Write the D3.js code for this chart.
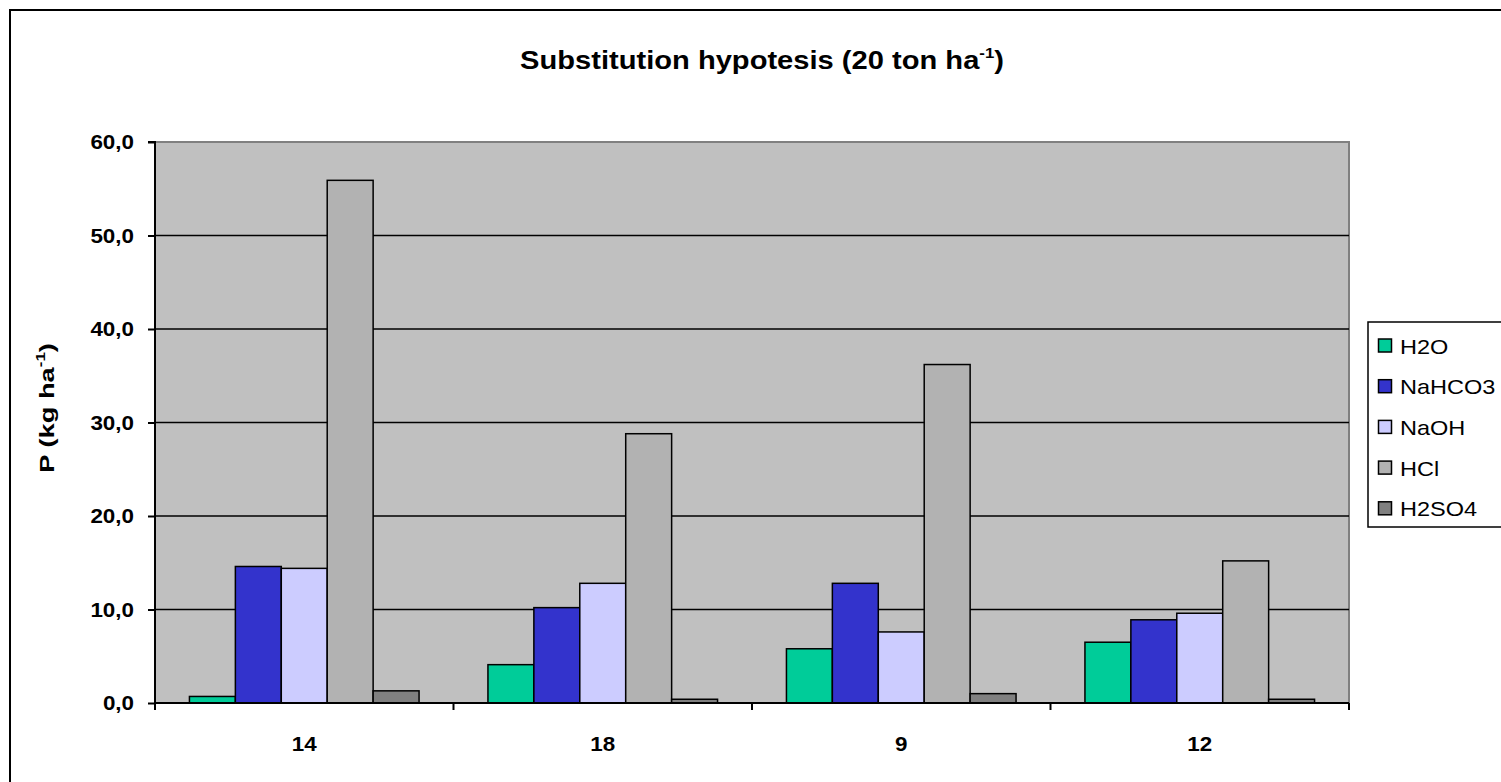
<!DOCTYPE html>
<html>
<head>
<meta charset="utf-8">
<script src="https://cdn.jsdelivr.net/npm/d3@7/dist/d3.min.js"></script>
<style>
  html, body { margin: 0; padding: 0; background: #fff; }
  svg { display: block; font-family: Arial, "Liberation Sans", sans-serif; }
</style>
</head>
<body>
<svg id="chart" width="1501" height="782"></svg>
<script>
// Sampling sites (x categories) and extraction series
const categories = ["14", "18", "9", "12"];
const seriesNames = ["H2O", "NaHCO3", "NaOH", "HCl", "H2SO4"];
const seriesColors = ["#00CC99", "#3333CC", "#CCCCFF", "#B2B2B2", "#808080"];

// P extracted (kg ha-1), one array per extractant, in category order
const h2o    = [0.7, 4.1, 5.8, 6.5];
const nahco3 = [14.6, 10.2, 12.8, 8.9];
const naoh   = [14.4, 12.8, 7.6, 9.6];
const hcl    = [55.9, 28.8, 36.2, 15.2];
const h2so4  = [1.3, 0.4, 1.0, 0.4];

const yTicks = [0, 10, 20, 30, 40, 50, 60];
const yTickLabels = ["0,0", "10,0", "20,0", "30,0", "40,0", "50,0", "60,0"];

const seriesValues = [h2o, nahco3, naoh, hcl, h2so4];

const svg = d3.select("#chart");
const SX = 1.12; // horizontal text stretch

// outer chart frame
svg.append("rect")
  .attr("x", 10).attr("y", 10).attr("width", 1500).attr("height", 780)
  .attr("fill", "#fff").attr("stroke", "#000").attr("stroke-width", 2);

const plot = { left: 155, right: 1349, top: 142, bottom: 703 };

const x0 = d3.scaleBand().domain(categories).range([plot.left, plot.right]).padding(0);
const unit = x0.bandwidth() / 6.5;
const x1 = d3.scaleBand().domain(seriesNames).range([0.75 * unit, 5.75 * unit]).padding(0);
const y = d3.scaleLinear().domain([0, 60]).range([plot.bottom, plot.top]);

// plot background
svg.append("rect")
  .attr("x", plot.left).attr("y", plot.top)
  .attr("width", plot.right - plot.left).attr("height", plot.bottom - plot.top)
  .attr("fill", "#C0C0C0");
// gray top/right plot border
svg.append("path")
  .attr("d", `M${plot.left},${plot.top}H${plot.right}V${plot.bottom}`)
  .attr("fill", "none").attr("stroke", "#808080").attr("stroke-width", 2);

// gridlines
svg.append("g")
  .selectAll("line")
  .data(yTicks.filter(t => t > 0 && t < 60))
  .join("line")
  .attr("x1", plot.left).attr("x2", plot.right)
  .attr("y1", d => y(d)).attr("y2", d => y(d))
  .attr("stroke", "#000").attr("stroke-width", 1.5);

// bars
const groups = svg.append("g")
  .selectAll("g")
  .data(categories)
  .join("g")
  .attr("transform", d => `translate(${x0(d)},0)`);

groups.selectAll("rect")
  .data((c, ci) => seriesNames.map((s, si) => ({ s, si, v: seriesValues[si][ci] })))
  .join("rect")
  .attr("x", d => x1(d.s))
  .attr("y", d => y(d.v))
  .attr("width", x1.bandwidth())
  .attr("height", d => y(0) - y(d.v))
  .attr("fill", d => seriesColors[d.si])
  .attr("stroke", "#000").attr("stroke-width", 1.5);

// y axis
const yAxis = d3.axisLeft(y).tickValues(yTicks).tickSize(7).tickFormat("");
const gy = svg.append("g").attr("transform", `translate(${plot.left},0)`).call(yAxis);
gy.select(".domain").attr("stroke", "#000").attr("stroke-width", 2).attr("d", `M-7,${plot.top}H0V${plot.bottom}`);
gy.selectAll(".tick line").attr("stroke", "#000").attr("stroke-width", 2);

// y tick labels
svg.append("g")
  .selectAll("text")
  .data(yTicks)
  .join("text")
  .attr("transform", d => `translate(134,${y(d) + 7}) scale(${SX},1)`)
  .attr("text-anchor", "end")
  .attr("font-size", 20).attr("font-weight", "bold")
  .text((d, i) => yTickLabels[i]);

// x axis with ticks at category boundaries
const gx = svg.append("g").attr("transform", `translate(0,${plot.bottom})`);
gx.append("line")
  .attr("x1", plot.left).attr("x2", plot.right)
  .attr("stroke", "#000").attr("stroke-width", 2);
const bounds = categories.map(c => x0(c)).concat([plot.right]);
gx.selectAll("line.tick")
  .data(bounds)
  .join("line").attr("class", "tick")
  .attr("x1", d => d).attr("x2", d => d)
  .attr("y1", 0).attr("y2", 7)
  .attr("stroke", "#000").attr("stroke-width", 2);

svg.append("g")
  .selectAll("text")
  .data(categories)
  .join("text")
  .attr("transform", d => `translate(${x0(d) + x0.bandwidth() / 2},751) scale(${SX},1)`)
  .attr("text-anchor", "middle")
  .attr("font-size", 20).attr("font-weight", "bold")
  .text(d => d);

// y axis title
const yt = svg.append("text")
  .attr("transform", `translate(54,408) rotate(-90) scale(1.3,1)`)
  .attr("text-anchor", "middle")
  .attr("font-size", 21).attr("font-weight", "bold");
yt.append("tspan").text("P (kg ha");
yt.append("tspan").attr("font-size", 13).attr("dy", -9).text("-1");
yt.append("tspan").attr("dy", 9).text(")");

// chart title
const title = svg.append("text")
  .attr("transform", `translate(762,69) scale(${SX},1)`)
  .attr("text-anchor", "middle")
  .attr("font-size", 26).attr("font-weight", "bold");
title.append("tspan").text("Substitution hypotesis (20 ton ha");
title.append("tspan").attr("font-size", 15).attr("dy", -11).text("-1");
title.append("tspan").attr("dy", 11).text(")");

// legend
const legend = svg.append("g");
legend.append("rect")
  .attr("x", 1368).attr("y", 322).attr("width", 160).attr("height", 205)
  .attr("fill", "#fff").attr("stroke", "#000").attr("stroke-width", 1.5);
const items = legend.selectAll("g.item")
  .data(seriesNames)
  .join("g").attr("class", "item")
  .attr("transform", (d, i) => `translate(0,${345.5 + i * 40.7})`);
items.append("rect")
  .attr("x", 1378.5).attr("y", -6.5).attr("width", 13).attr("height", 13)
  .attr("fill", (d, i) => seriesColors[i])
  .attr("stroke", "#000").attr("stroke-width", 1.5);
items.append("text")
  .attr("transform", `translate(1400,8) scale(${SX},1)`)
  .attr("font-size", 21)
  .text(d => d);
</script>
</body>
</html>
